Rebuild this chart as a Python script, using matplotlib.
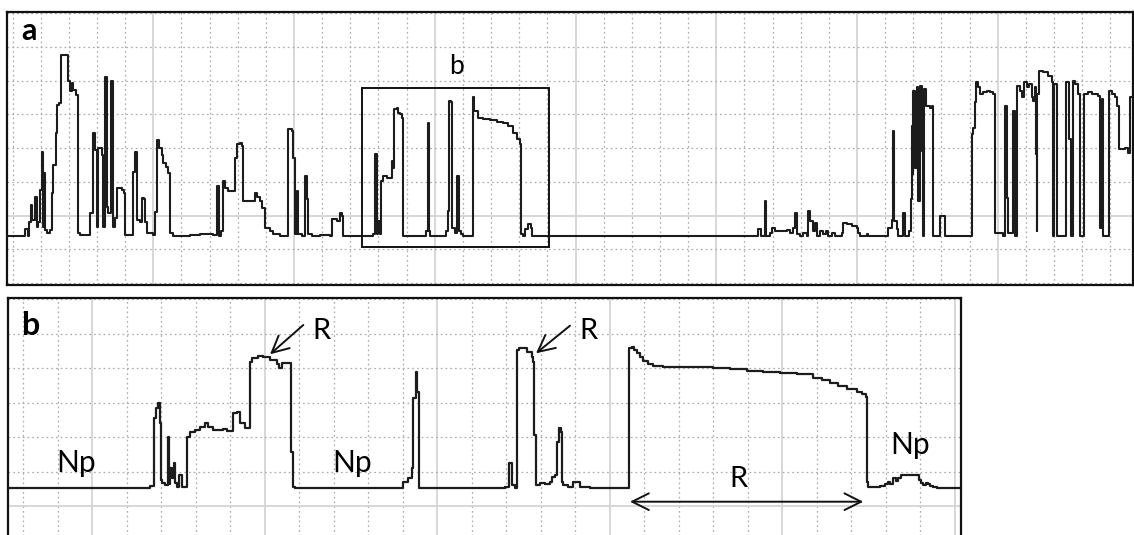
#!/usr/bin/env python3
"""Two stacked oscilloscope-style traces: (a) full record, (b) zoom of the boxed part."""

from __future__ import annotations

import matplotlib

matplotlib.use("Agg")
import matplotlib.pyplot as plt
from matplotlib.patches import Rectangle

# ─── panel a: full trace (time, amplitude above baseline) ────────────────────

t_a = [
    7, 25, 28, 29.3, 31, 32.3, 35, 36.7, 38.3, 40, 41.7, 42.7, 44, 45.3, 46.7,
    50, 51.7, 53.3, 55.7, 56.7, 59.3, 61, 67.7, 70, 71.7, 73.3, 76, 77.7, 78.3,
    80, 90, 92.7, 95, 96.7, 98.3, 101.7, 103.3, 105, 106.7, 108.3, 111, 112.7,
    115, 116.7, 121.7, 124.3, 125, 133.3, 135, 136.7, 140, 141.7, 144.3, 145,
    146.7, 153.3, 155, 157.3, 159.3, 161.7, 163.3, 165.7, 168.3, 170, 173, 190,
    200, 206.7, 213.3, 216.7, 219.3, 220.7, 222.7, 225, 228.3, 235, 236.7, 240,
    241.7, 243.3, 255, 257.3, 260, 261.7, 265, 270, 273.3, 280, 288.3, 291.7,
    293.3, 295, 296.7, 298.3, 301.7, 305, 306.7, 308.3, 311.7, 320, 330, 331.7,
    336.7, 340, 342.3, 343.3, 373.3, 375, 376.7, 378.3, 380, 381, 383.3, 386.7,
    391.7, 393.3, 394.3, 396.7, 398.3, 400, 401.7, 402.7, 426, 427.7, 428.7,
    430, 446, 448.3, 449.3, 451, 452.3, 455, 457.3, 458.7, 460.7, 463.3, 472.7,
    474.3, 478.3, 483.3, 490, 496.7, 503.3, 508.3, 513.3, 516.7, 520, 521,
    523.3, 525, 528.3, 530.7, 531.7, 758.3, 760.7, 765, 766, 770, 771.7, 775,
    786.7, 790, 793.3, 795, 796.7, 800, 803.3, 806.7, 807.7, 810, 812.7, 815,
    816.7, 820, 823.3, 826, 828.3, 831.7, 835, 841.7, 843.3, 846.7, 851.7,
    856.7, 858.3, 860, 866.7, 868.3, 888.3, 891.7, 893.3, 894.3, 896.7, 898.3,
    903.3, 905, 909.3, 910.7, 911.7, 912.7, 913.3, 915, 916.7, 918.3, 920,
    921.7, 922.7, 924, 925.7, 930, 931.7, 932.7, 940, 945, 971.7, 973.3, 975,
    976, 978.3, 980, 983.3, 986.7, 990, 993.3, 995, 1003, 1005, 1006.7, 1008.3,
    1013.3, 1015, 1016.7, 1020, 1021.7, 1024, 1026.7, 1029.3, 1031.7, 1033.3,
    1035, 1036, 1036.7, 1037.3, 1039, 1043.3, 1048.3, 1051.7, 1052.7, 1054,
    1056.7, 1065.7, 1067.7, 1069.3, 1070.7, 1072.7, 1075, 1078.3, 1080, 1084,
    1088.3, 1091.7, 1095, 1098.3, 1100, 1101.7, 1103.3, 1108.7, 1111.7, 1115,
    1117.3, 1119.3, 1125, 1128.3, 1130, 1133,
]
amp_a = [
    0, 6.7, 0, 14.3, 31, 16, 39.3, 9.3, 14.3, 46, 84.3, 9.3, 62.7, 6, 2.7,
    6, 42.7, 71, 102.7, 131, 132.7, 181, 154.3, 144.3, 152.7, 146, 141, 137.7, 2.7,
    1, 22.7, 102.7, 86, 9.3, 87.7, 81, 9.3, 158.7, 29.3, 22.7, 154.3, 9.3,
    17.7, 47.7, 46, 42.7, 1, 64.3, 84.3, 16, 14.3, 37.7, 36.7, 14.3,
    2.7, 1, 24.3, 96, 87.7, 81, 72.7, 69.3, 62.7, 2.7, 0, 1,
    2.3, 1.7, 1, 50, 0, 5, 55, 48.3, 45, 78.3, 91.7, 93.3,
    90, 35, 43.3, 39, 35, 28.3, 8.3, 5, 1.7, 0, 106.7, 105,
    78.3, 1.7, 45, 1.7, 0, 60, 36.7, 1.7, 0, 1, 0, 16.7,
    15, 23.3, 20, 0, 1.7, 81.7, 1.7, 15, 1.7, 55, 60, 58.3,
    75, 68.3, 126.7, 128.3, 123.3, 121.7, 118.3, 0, 5, 113.3, 5,
    0, 5, 25, 135, 133.3, 8.3, 3.3, 60, 5, 1.7, 0, 138.3,
    125, 118.3, 116.7, 115.7, 114, 113.3, 110, 103.3, 96.7, 91.7, 1.7,
    0, 6.7, 11.7, 8.3, 0, 6.7, 0, 35, 0, 3.3, 8.3, 5,
    5.7, 3.3, 8.3, 23.3, 1.7, 0, 3.3, 0, 25, 15, 5, 13.3,
    0, 5, 1.7, 5, 0, 3.3, 0, 3.3, 13.3, 11.7, 10,
    8.3, 3.3, 0, 2.3, 0, 8.3, 15.7, 105, 15, 6.7, 0,
    23.3, 0, 5, 36.7, 110, 61.7, 145, 68.3, 148.3, 35, 150,
    85, 0, 146.7, 130, 128.3, 130, 0, 20, 0, 101.7, 108.3, 133.3,
    153.3, 148.3, 141.7, 143.3, 145, 143.3, 141.7, 3.3, 0, 130, 38.3, 3.3,
    125, 0, 150, 145, 138.3, 153.3, 148.3, 151.7, 138.3, 135,
    148.3, 81.7, 5, 141.7, 165, 163.3, 160, 153.3, 0, 151.7,
    0, 153.3, 153.3, 96.7, 0, 155, 151.7, 141.7, 0, 141.7,
    143.3, 141.7, 142, 140, 8.3, 137, 0, 145, 141.7, 138.3,
    130, 86.7, 88.3, 83.3, 138.3, 135,
]

# ─── panel b: zoomed trace ───────────────────────────────────────────────────

t_b = [
    8, 150, 154.3, 156, 158.3, 160, 161, 161.7, 165, 168.3, 169.3, 170, 172,
    174, 175, 176.7, 179.3, 181.7, 187.3, 190, 195, 200, 205, 208.3, 213.3,
    223.3, 226.7, 233.3, 236.7, 240, 245, 250, 251.7, 258.3, 263.3, 270, 276.7,
    279.3, 281.7, 290.7, 293.3, 295, 403.3, 408, 411.7, 413.3, 416, 417.3,
    419.3, 505, 509.3, 511.7, 515, 517.3, 519.3, 526.7, 531.7, 533.3, 534.3,
    536, 540, 545, 550, 551.7, 555, 556.7, 559, 561, 561.7, 563.3, 568.3, 573,
    580, 590, 629, 631.7, 634, 636.7, 640, 643.3, 648, 653.3, 663.3, 680,
    696.7, 713.3, 730, 746.7, 763.3, 780, 796.7, 813.3, 822, 830, 838, 846.7,
    856.7, 862, 866, 866.7, 868.3, 880, 885, 888.3, 890, 893.3, 896, 898,
    900.7, 916.7, 919.3, 921, 923.3, 926, 928.3, 930, 933.3, 936.7, 961,
]
amp_b = [
    0, 2.3, 70, 80, 85.7, 65, 8.3, 5, 3, 51, 4, 20, 10,
    25, 5, 1.7, 13.3, 1, 51.7, 56.7, 58.3, 61.7, 65, 61.7, 58.3,
    59, 57.3, 75, 76.7, 65, 60.7, 126.7, 130, 132.6, 131.6, 128.3, 124,
    120, 125, 36.6, 1.6, 0, 6.6, 10, 20, 90, 116.6, 96.6,
    0, 1.6, 25, 3.3, 0, 138.3, 140, 136.6, 131.6, 126.6, 53.3,
    3.3, 5, 4, 6.6, 11.6, 13.3, 46.6, 60, 56.6, 6.6, 3.3, 1.6, 6,
    1.6, 0, 140, 141.6, 138, 135, 131, 127.3, 124.5, 122.6, 121.6, 121.6,
    121.3, 120, 119, 117.6, 116.6, 115.6, 114, 110.6, 108, 105, 102, 99,
    96.6, 94, 91.6, 6.6, 1.6, 2.3, 4, 6, 4, 10, 7, 10,
    13.3, 13.3, 8.3, 5, 3.3, 5, 4, 2, 1.6, 0, 0,
]

# labels: (text, x, baseline y)
np_labels = [("Np", 75.8, 16.6), ("Np", 351.7, 16.6), ("Np", 910.0, 34.3)]
r_labels = [("R", 321.7, 149.3), ("R", 588.3, 149.3), ("R", 738.3, 1.6)]
r_pointers = [((303.3, 163.3), (270.0, 134.0)), ((570.0, 162.6), (536.0, 135.0))]
r_span = (630.0, 863.3, -13.4)

FONT = ["Lato", "DejaVu Sans"]
TRACE = "#1c1c1c"


def _grid(ax, xs, ys, x_major, y_major):
    for x in xs:
        if x in x_major:
            ax.axvline(x, color="#d4d4d4", lw=1.3, zorder=1)
        else:
            ax.axvline(x, color="#adadad", lw=0.9, ls=(0, (1.4, 2.4)), zorder=1)
    for y in ys:
        if y in y_major:
            ax.axhline(y, color="#d4d4d4", lw=1.3, zorder=1)
        else:
            ax.axhline(y, color="#adadad", lw=0.9, ls=(0, (1.4, 2.4)), zorder=1)


def _frame(ax):
    ax.set_xticks([])
    ax.set_yticks([])
    for s in ax.spines.values():
        s.set_linewidth(1.6)
        s.set_color("#111111")


def main() -> None:
    fig = plt.figure(figsize=(11.34, 5.35), dpi=100)

    # panel a
    ax_a = fig.add_axes([7 / 1134, 250 / 535, 1126 / 1134, 273 / 535])
    ax_a.set_xlim(7, 1133)
    ax_a.set_ylim(-49, 223.7)
    xs = [round(12.5 + 28.15 * k, 2) for k in range(40)]
    x_major = [xs[k] for k in range(5, 40, 5)]
    ys = [round(-47 + 33.7 * j, 2) for j in range(9)]
    _grid(ax_a, xs, ys, x_major, [ys[2]])
    ax_a.plot(t_a, amp_a, drawstyle="steps-post", color=TRACE, lw=1.5, zorder=3)
    ax_a.add_patch(
        Rectangle((361.7, -11.3), 549 - 361.7, 148 + 11.3,
                  fill=False, ec="#111111", lw=1.4, zorder=4)
    )
    ax_a.text(28.8, 195.3, "a", family=FONT, fontsize=22, fontweight="bold",
              ha="center", va="baseline", zorder=5)
    ax_a.text(456.7, 162, "b", family=FONT, fontsize=19,
              ha="center", va="baseline", zorder=5)
    _frame(ax_a)

    # panel b (bottom edge runs past the figure)
    ax_b = fig.add_axes([8 / 1134, -10 / 535, 953 / 1134, 247.5 / 535])
    ax_b.set_xlim(8, 961)
    ax_b.set_ylim(-56.7, 190.8)
    xs = [round(437.3 + 34.5 * k, 2) for k in range(-12, 16)]
    x_major = [round(437.3 + 34.5 * k, 2) for k in (-10, -5, 0, 5, 10, 15)]
    ys = [round(-17.7 + 34.5 * j, 2) for j in range(-1, 7)]
    _grid(ax_b, xs, ys, x_major, [ys[1]])
    ax_b.plot(t_b, amp_b, drawstyle="steps-post", color=TRACE, lw=1.6, zorder=3)

    ax_b.text(30.7, 153.3, "b", family=FONT, fontsize=23, fontweight="bold",
              ha="center", va="baseline", zorder=5)
    for label, x, y in np_labels:
        ax_b.text(x, y, label, family=FONT, fontsize=21.5,
                  ha="center", va="baseline", zorder=5)
    for label, x, y in r_labels:
        ax_b.text(x, y, label, family=FONT, fontsize=21,
                  ha="center", va="baseline", zorder=5)

    arrow = dict(arrowstyle="->,head_length=0.8,head_width=0.4", color="#111111",
                 lw=1.4, mutation_scale=15, shrinkA=0, shrinkB=0)
    for tail, head in r_pointers:
        ax_b.annotate("", xy=head, xytext=tail, arrowprops=arrow, zorder=5)
    x0, x1, y = r_span
    span = dict(arrow, arrowstyle="<->,head_length=0.8,head_width=0.4")
    ax_b.annotate("", xy=(x1, y), xytext=(x0, y), arrowprops=span, zorder=5)
    _frame(ax_b)

    fig.savefig("out.png", dpi=100, facecolor="white")
    plt.close(fig)


if __name__ == "__main__":
    main()
